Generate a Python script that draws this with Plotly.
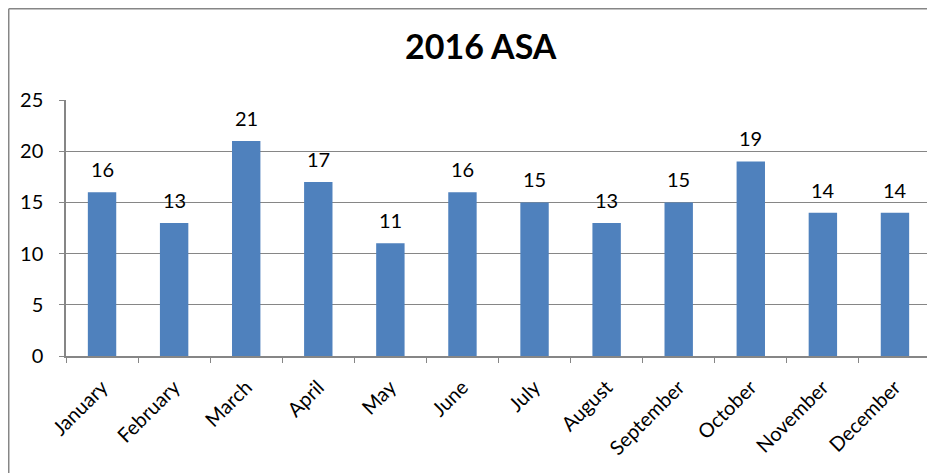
import plotly.graph_objects as go

meses = ["January", "February", "March", "April", "May", "June",
         "July", "August", "September", "October", "November", "December"]
valores = [16, 13, 21, 17, 11, 16, 15, 13, 15, 19, 14, 14]
y_ticks = [0, 5, 10, 15, 20, 25]

fonte = "Lato, 'Open Sans', sans-serif"
cinza = "#868686"

fig = go.Figure()
fig.add_trace(go.Bar(x=meses, y=valores, marker=dict(color="#4F81BD", line=dict(width=0))))

# rotulos dos valores acima das barras
for m, v in zip(meses, valores):
    fig.add_annotation(x=m, y=v, text=str(v), showarrow=False, yanchor="middle",
                       yshift=23, font=dict(family=fonte, size=20, color="black"))

# moldura do grafico (so aparecem os lados esquerdo e superior)
fig.add_shape(type="line", xref="paper", yref="paper", x0=-0.0662, x1=-0.0662, y0=-0.6, y1=1.356,
              line=dict(color=cinza, width=1.5), layer="below")
fig.add_shape(type="line", xref="paper", yref="paper", x0=-0.0662, x1=1.05, y0=1.356, y1=1.356,
              line=dict(color=cinza, width=1.5), layer="below")

# a pagina tem margem de 8px no body, por isso o tamanho e as margens descontam isso
fig.update_layout(
    title=dict(text="<b>2016 ASA</b>", x=0.51, xanchor="center", y=0.915, yanchor="middle",
               xref="container", font=dict(family=fonte, size=34, color="black")),
    font=dict(family=fonte, size=20, color="black"),
    plot_bgcolor="white",
    paper_bgcolor="white",
    width=927,
    height=465,
    margin=dict(l=58, r=4, t=92, b=117),
    bargap=0.606,
    showlegend=False,
)
fig.update_xaxes(showline=True, linecolor=cinza, linewidth=1.5, ticks="outside", tickson="boundaries",
                 ticklen=5, tickcolor=cinza, tickangle=-45, showgrid=False, ticklabelstandoff=10)
fig.update_yaxes(range=[0, 25], tickvals=y_ticks, showline=True, linecolor=cinza, linewidth=1.5,
                 ticks="outside", ticklen=5, tickcolor=cinza, showgrid=True, gridcolor=cinza,
                 gridwidth=1, zeroline=False, ticklabelstandoff=12)

fig.write_html("out.html")
